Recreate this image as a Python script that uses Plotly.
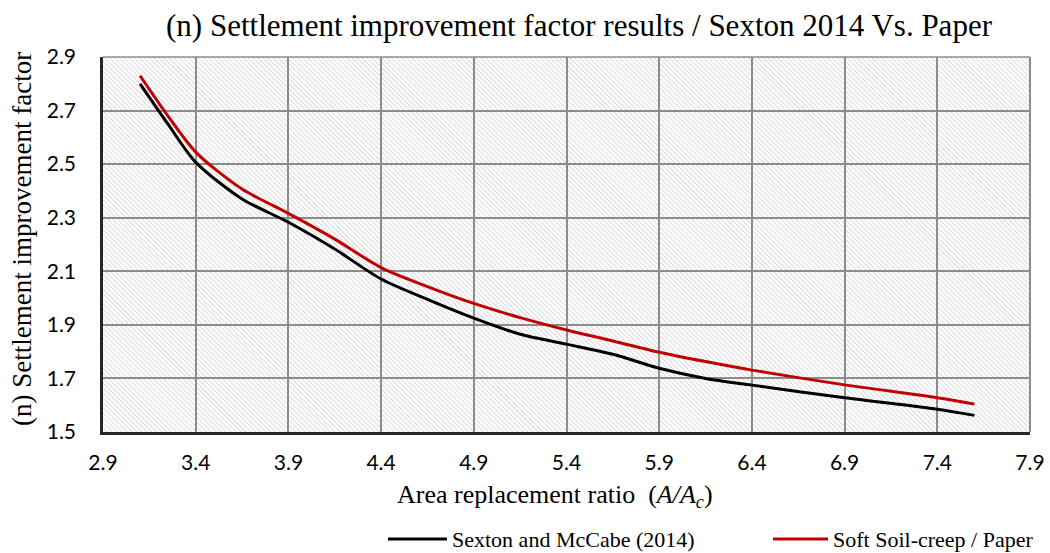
import base64
import plotly.graph_objects as go

# Area replacement ratio (A/Ac) sample points
area_ratio = [3.1, 3.25, 3.4, 3.65, 3.9, 4.15, 4.4, 4.65, 4.9, 5.15, 5.4, 5.65, 5.9, 6.15, 6.4, 6.9, 7.4, 7.6]

# Settlement improvement factor (n)
sexton_mccabe = [2.80, 2.65, 2.507, 2.37, 2.283, 2.183, 2.071, 1.995, 1.925, 1.865, 1.828, 1.79, 1.738, 1.70, 1.675, 1.628, 1.585, 1.562]
soft_soil_creep = [2.83, 2.68, 2.545, 2.407, 2.316, 2.22, 2.114, 2.043, 1.98, 1.927, 1.881, 1.84, 1.798, 1.763, 1.731, 1.676, 1.628, 1.604]

series_names = ["Sexton and McCabe (2014)", "Soft Soil-creep / Paper"]
series_colors = ["black", "#c00000"]

x_ticks = [2.9, 3.4, 3.9, 4.4, 4.9, 5.4, 5.9, 6.4, 6.9, 7.4, 7.9]
y_ticks = [1.5, 1.7, 1.9, 2.1, 2.3, 2.5, 2.7, 2.9]

x_range = [2.9, 7.9]
y_range = [1.5, 2.9]

serif = "Liberation Serif"
sans = "Lato"

W, H = 1050, 553
ML, MR, MT, MB = 103, 20, 57, 121
PW, PH = W - ML - MR, H - MT - MB

# diagonal hatch tile used as the plot-area background
hatch_svg = f"""<svg xmlns='http://www.w3.org/2000/svg' width='{PW}' height='{PH}'>
<defs><pattern id='h' width='3.5' height='3.5' patternUnits='userSpaceOnUse' patternTransform='rotate(-45)'>
<rect width='3.5' height='3.5' fill='white'/><rect width='1.0' height='3.5' fill='#d8d8d8'/></pattern></defs>
<rect width='{PW}' height='{PH}' fill='url(#h)'/></svg>"""
hatch_uri = "data:image/svg+xml;base64," + base64.b64encode(hatch_svg.encode()).decode()

fig = go.Figure()

for name, color, values in zip(series_names, series_colors, [sexton_mccabe, soft_soil_creep]):
    fig.add_trace(go.Scatter(
        x=area_ratio, y=values, mode="lines", name=name, showlegend=False,
        line=dict(color=color, width=3, shape="spline", smoothing=0.8),
    ))

fig.add_layout_image(dict(
    source=hatch_uri, xref="paper", yref="paper", x=0, y=1, sizex=1, sizey=1,
    xanchor="left", yanchor="top", sizing="stretch", layer="below",
))


def px_x(px):
    return (px - ML) / PW


def px_y(py):
    return (H - MB - py) / PH


# legend drawn below the axis title
legend_y = px_y(539)
legend_items = [(388, 447, 450), (773, 828, 831)]
for (x0, x1, tx), name, color in zip(legend_items, series_names, series_colors):
    fig.add_shape(type="line", xref="paper", yref="paper",
                  x0=px_x(x0), x1=px_x(x1), y0=legend_y, y1=legend_y,
                  line=dict(color=color, width=3))
    fig.add_annotation(text=name, xref="paper", yref="paper", x=px_x(tx), y=legend_y,
                       xanchor="left", yanchor="middle", showarrow=False,
                       font=dict(family=serif, size=22, color="black"))

# axis titles
fig.add_annotation(text="Area replacement ratio\u00a0 (<i>A/A<sub>c</sub></i>)",
                   xref="paper", yref="paper", x=px_x(555), y=px_y(496),
                   xanchor="center", yanchor="middle", showarrow=False,
                   font=dict(family=serif, size=26, color="black"))
fig.add_annotation(text="(n) Settlement improvement factor",
                   xref="paper", yref="paper", x=px_x(22), y=px_y(239),
                   xanchor="center", yanchor="middle", showarrow=False, textangle=-90,
                   font=dict(family=serif, size=27, color="black"))

fig.update_layout(
    width=W, height=H,
    margin=dict(l=ML, r=MR, t=MT, b=MB, autoexpand=False),
    paper_bgcolor="white", plot_bgcolor="rgba(0,0,0,0)",
    showlegend=False,
    title=dict(
        text="(n) Settlement improvement factor results / Sexton 2014 Vs. Paper",
        font=dict(family=serif, size=31, color="black"),
        xref="container", x=579 / W, xanchor="center",
        yref="container", y=1 - 25 / H, yanchor="middle",
    ),
    xaxis=dict(
        range=x_range, tickvals=x_ticks, ticktext=[f"{v:.1f}" for v in x_ticks],
        showgrid=True, gridcolor="#8c8c8c", gridwidth=1.5,
        showline=True, linecolor="#262626", linewidth=2.5,
        ticks="", zeroline=False, ticklabelstandoff=10,
        tickfont=dict(family=sans, size=21, color="black"),
    ),
    yaxis=dict(
        range=y_range, tickvals=y_ticks, ticktext=[f"{v:.1f}" for v in y_ticks],
        showgrid=True, gridcolor="#8c8c8c", gridwidth=1.5,
        showline=True, linecolor="#262626", linewidth=2.5,
        ticks="", zeroline=False, ticklabelstandoff=20,
        tickfont=dict(family=sans, size=21, color="black"),
    ),
)

# right and top frame edges in grid colour
fig.add_shape(type="line", xref="paper", yref="paper", x0=1, x1=1, y0=0, y1=1,
              line=dict(color="#8c8c8c", width=2), layer="below")
fig.add_shape(type="line", xref="paper", yref="paper", x0=0, x1=1, y0=1, y1=1,
              line=dict(color="#8c8c8c", width=1.5), layer="below")

fig.write_html("out.html")
